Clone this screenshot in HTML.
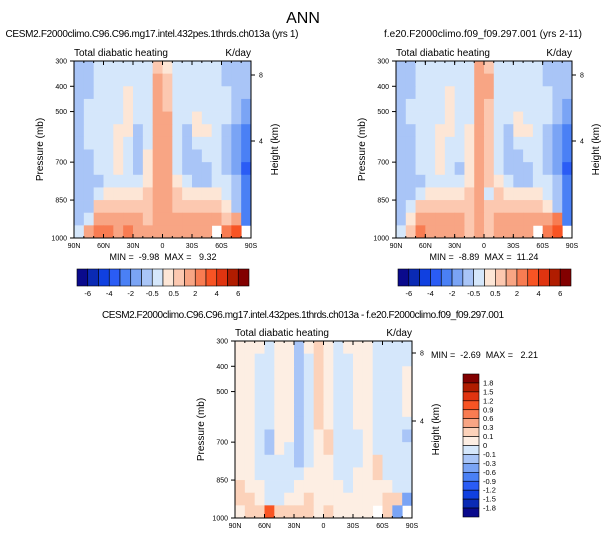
<!DOCTYPE html>
<html><head><meta charset="utf-8"><style>
body{margin:0;background:#fff}
svg{display:block;font-family:"Liberation Sans",sans-serif}
</style></head><body>
<svg id="fig" width="606" height="538" viewBox="0 0 606 538" xmlns="http://www.w3.org/2000/svg">
<text x="303" y="23" text-anchor="middle" font-size="16">ANN</text>
</svg>
<script>
// ---- data ----
const latLabels = ["90N","60N","30N","0","30S","60S","90S"];
const presTicks = [300,400,500,700,850,1000];
const heightTicks = [8,4];
const lev1 = [-6,-5,-4,-3,-2,-1,-0.5,0,0.5,1,2,3,4,5,6];
const lev1Labels = ["-6","-4","-2","-0.5","0.5","2","4","6"];
const lev3 = [-1.8,-1.5,-1.2,-0.9,-0.6,-0.3,-0.1,0,0.1,0.3,0.6,0.9,1.2,1.5,1.8];
const lev3Labels = ["1.8","1.5","1.2","0.9","0.6","0.3","0.1","0","-0.1","-0.3","-0.6","-0.9","-1.2","-1.5","-1.8"];
const colors1 = ["#0a0a8c","#0a2ab4","#1040e0","#2a5cf5","#4a80f5","#7aa4f5","#a9c5f7","#d5e7fb","#fde6d6","#fcc8b0","#f8a584","#f87c52","#f85424","#e03410","#b01c00","#820000"];
const colors3 = ["#0a0a8c","#0a2ab4","#1040e0","#2a5cf5","#4a80f5","#7aa4f5","#a9c5f7","#d5e7fb","#fdeee3","#fcd2ba","#f8a584","#f87c52","#f85424","#e03410","#b01c00","#820000"];
const N = null;
const panel1Values = [
[-0.8,-0.8,-0.3,-0.3,-0.3,-0.3,-0.3,-0.3,0.8,0.3,-0.3,-0.3,-0.3,-0.3,-0.3,-0.8,-0.8,-0.8],
[-0.8,-0.8,-0.3,-0.3,-0.3,-0.3,-0.3,-0.3,1.5,0.8,-0.3,-0.3,-0.3,-0.3,-0.3,-0.8,-0.8,-0.8],
[-0.8,-0.8,-0.3,-0.3,-0.3,0.2,-0.3,-0.3,1.5,0.8,-0.3,-0.3,-0.3,-0.3,-0.3,-0.3,-0.8,-0.8],
[-0.8,-0.3,-0.3,-0.3,-0.3,0.2,-0.3,-0.3,1.5,0.8,-0.3,-0.3,-0.3,-0.3,-0.3,-0.3,-0.8,-1.5],
[-0.8,-0.3,-0.3,-0.3,-0.3,0.2,-0.3,-0.3,1.5,1.5,-0.3,-0.3,0.2,-0.3,-0.3,-0.3,-0.8,-1.5],
[-0.8,-0.3,-0.3,-0.3,0.2,0.2,-0.8,-0.3,1.5,1.5,-0.3,-0.8,0.2,0.2,-0.3,-0.8,-1.5,-2.5],
[-0.8,-0.3,-0.3,-0.3,0.2,-0.3,-0.8,-0.3,1.5,1.5,-0.3,-0.8,-0.3,-0.3,-0.3,-0.8,-1.5,-2.5],
[-0.8,-0.8,-0.3,-0.3,0.2,-0.3,-0.8,0.2,1.5,1.5,-0.3,-0.8,-0.8,-0.3,-0.3,-0.8,-1.5,-2.5],
[-0.8,-0.8,-0.3,-0.3,0.2,-0.3,-0.8,0.2,1.5,1.5,-0.3,-0.8,-0.8,-0.8,-0.3,-0.8,-1.5,-3.5],
[-0.8,-0.8,-0.8,-0.3,-0.3,-0.3,-0.3,0.2,1.5,1.5,0.2,-0.3,-0.8,-0.8,-0.3,-0.3,-0.8,-2.5],
[-0.8,-0.8,-0.3,0.2,0.2,0.2,0.2,0.8,1.5,1.5,0.8,0.2,0.2,0.2,0.2,-0.3,-0.8,-2.5],
[-0.8,-0.8,0.8,0.8,0.8,0.8,0.8,0.8,1.5,1.5,0.8,0.8,0.8,0.8,0.8,0.2,-0.8,-2.5],
[-0.8,-0.3,1.5,1.5,1.5,1.5,1.5,0.8,1.5,1.5,1.5,1.5,1.5,1.5,1.5,0.8,1.5,-2.5],
[-0.3,1.5,2.5,2.5,1.5,2.5,1.5,1.5,1.5,1.5,1.5,1.5,1.5,1.5,N,2.5,3.5,N]];
const panel2Values = [
[-0.8,-0.8,-0.3,-0.3,-0.3,-0.3,-0.3,-0.3,1.5,0.8,-0.3,-0.3,-0.3,-0.3,-0.3,-0.8,-0.8,-0.8],
[-0.8,-0.8,-0.3,-0.3,-0.3,-0.3,-0.3,-0.3,1.5,1.5,-0.3,-0.3,-0.3,-0.3,-0.3,-0.8,-0.8,-0.8],
[-0.8,-0.8,-0.3,-0.3,-0.3,0.2,-0.3,-0.3,1.5,1.5,-0.3,-0.3,-0.3,-0.3,-0.3,-0.3,-0.8,-0.8],
[-0.8,-0.3,-0.3,-0.3,-0.3,0.2,-0.3,-0.3,1.5,0.8,-0.3,-0.3,-0.3,-0.3,-0.3,-0.3,-0.8,-1.5],
[-0.8,-0.3,-0.3,-0.3,-0.3,0.2,-0.3,-0.3,1.5,0.8,-0.3,-0.3,0.2,-0.3,-0.3,-0.3,-0.8,-1.5],
[-0.8,-0.8,-0.3,-0.3,0.2,0.2,-0.3,0.2,1.5,0.8,-0.3,-0.8,0.2,0.2,-0.3,-0.8,-1.5,-2.5],
[-0.8,-0.8,-0.3,-0.3,0.2,-0.3,-0.3,0.2,1.5,0.8,-0.3,-0.8,-0.3,-0.3,-0.3,-0.8,-1.5,-2.5],
[-0.8,-0.8,-0.3,-0.3,0.2,-0.3,-0.3,0.2,1.5,0.8,-0.3,-0.8,-0.8,-0.3,-0.3,-0.8,-1.5,-2.5],
[-0.8,-0.8,-0.3,-0.3,0.2,-0.3,-0.8,0.2,1.5,0.8,-0.3,-0.8,-0.8,-0.8,-0.3,-0.8,-1.5,-3.5],
[-0.8,-0.8,-0.8,-0.3,-0.3,-0.3,-0.3,0.2,1.5,0.8,0.2,-0.3,-0.8,-0.8,-0.3,-0.3,-0.8,-2.5],
[-0.8,-0.8,-0.3,0.2,0.2,0.2,0.2,0.8,1.5,-0.3,0.8,0.2,0.2,0.2,0.2,-0.3,-0.8,-2.5],
[-0.8,-0.3,0.8,0.8,0.8,0.8,0.8,0.8,1.5,0.8,0.8,0.8,0.8,0.8,0.8,0.2,-0.8,-2.5],
[-0.8,0.2,1.5,1.5,1.5,1.5,1.5,0.8,1.5,0.8,1.5,1.5,1.5,1.5,1.5,1.5,2.5,-2.5],
[-0.3,0.8,2.5,1.5,1.5,1.5,1.5,0.8,1.5,0.8,1.5,1.5,1.5,1.5,N,2.5,3.5,N]];
const panel3Values = [
[0.05,0.05,0.05,-0.05,0.05,0.05,-0.2,0.05,0.2,0.05,-0.05,0.05,0.05,0.05,-0.05,-0.05,-0.05,-0.05],
[0.05,0.05,-0.05,-0.05,0.05,0.05,-0.2,-0.05,0.2,0.05,-0.05,-0.05,0.05,0.05,-0.05,-0.05,-0.05,-0.05],
[0.05,0.05,-0.05,-0.05,0.05,0.05,-0.2,-0.05,0.2,0.05,-0.05,-0.05,0.05,0.05,-0.05,-0.05,-0.05,0.05],
[0.05,0.05,-0.05,-0.05,0.05,0.05,-0.2,-0.05,0.2,0.05,-0.05,-0.05,0.05,0.05,-0.05,-0.05,-0.05,0.05],
[0.05,0.05,-0.05,-0.05,0.05,0.05,-0.2,-0.05,0.2,0.05,-0.05,-0.05,0.05,0.05,-0.05,-0.05,-0.05,0.05],
[0.05,0.05,-0.05,-0.05,0.05,0.05,-0.2,-0.05,0.2,0.05,-0.05,-0.05,0.05,0.05,-0.05,-0.05,-0.05,0.05],
[0.05,0.05,-0.05,-0.05,0.05,0.05,-0.2,-0.05,0.2,0.05,-0.05,-0.05,0.05,0.05,-0.05,-0.05,-0.05,-0.05],
[0.05,0.05,-0.05,-0.2,0.05,0.05,-0.2,-0.05,0.05,0.2,-0.05,-0.05,-0.05,0.05,-0.05,-0.05,-0.05,-0.2],
[0.05,0.05,-0.05,-0.2,0.05,-0.05,-0.2,-0.05,0.05,0.2,-0.05,-0.05,-0.05,0.05,-0.05,-0.05,-0.05,-0.05],
[0.05,0.05,-0.05,-0.05,-0.05,-0.05,-0.2,-0.05,0.05,0.05,-0.05,-0.05,-0.05,0.05,0.2,-0.05,-0.05,-0.05],
[0.05,0.05,-0.05,-0.05,-0.05,-0.05,-0.05,0.05,0.05,0.05,-0.05,-0.05,0.05,0.05,0.2,-0.05,-0.05,-0.05],
[0.2,0.05,0.05,-0.05,-0.05,-0.05,0.05,0.05,0.05,0.05,0.05,-0.05,0.05,0.05,0.05,0.05,-0.05,-0.05],
[0.2,0.2,0.05,-0.05,-0.05,0.05,0.05,0.2,0.05,0.05,0.05,0.05,0.05,0.05,0.05,0.2,0.2,-0.5],
[0.05,0.2,0.2,1.0,0.2,0.2,0.2,0.2,0.05,0.2,0.05,0.05,0.05,0.05,N,0.2,-0.5,N]];

// ---- drawing ----
const NS = "http://www.w3.org/2000/svg";
const svg = document.getElementById("fig");
function mk(tag, attrs, parent) {
  const e = document.createElementNS(NS, tag);
  for (const k in attrs) e.setAttribute(k, attrs[k]);
  (parent || svg).appendChild(e);
  return e;
}
function txt(x, y, s, size, anchor, parent) {
  const t = mk("text", {x: x, y: y, "font-size": size, "text-anchor": anchor || "start"}, parent);
  t.textContent = s;
  return t;
}
function colorFor(v, lev, cols) {
  let i = 0;
  while (i < lev.length && v >= lev[i]) i++;
  return cols[i];
}

function panel(P, values, lev, cols, opts) {
  const g = mk("g", {});
  
  
  const xs = lat => P.x0 + (90 - lat) / 180 * (P.x1 - P.x0);
  const ys = p => P.y0 + (p - 300) / 700 * (P.y1 - P.y0);
  const nr = values.length, nc = values[0].length;
  for (let r = 0; r < nr; r++) {
    for (let c = 0; c < nc; c++) {
      const v = values[r][c];
      if (v === null) continue;
      const la = 90 - c * 180 / nc, lb = 90 - (c + 1) * 180 / nc;
      const pa = 300 + r * 700 / nr, pb = 300 + (r + 1) * 700 / nr;
      const cell = mk("rect", {x: xs(la), y: ys(pa), width: xs(lb) - xs(la) + 0.4, height: ys(pb) - ys(pa) + 0.4, fill: colorFor(v, lev, cols)}, g);
      
      
    }
  }
  const frame = mk("rect", {x: P.x0, y: P.y0, width: P.x1 - P.x0, height: P.y1 - P.y0, fill: "none", stroke: "#000", "stroke-width": 1}, g);
  
  
  latLabels.forEach((s, i) => {
    const x = P.x0 + i * (P.x1 - P.x0) / (latLabels.length - 1);
    mk("line", {x1: x, x2: x, y1: P.y1, y2: P.y1 - 4, stroke: "#000"}, g);
    mk("line", {x1: x, x2: x, y1: P.y0, y2: P.y0 + 4, stroke: "#000"}, g);
    const t = txt(x, P.y1 + 10, s, 7, "middle", g);
    
    
  });
  for (let lat = 80; lat > -90; lat -= 10) {
    const x = xs(lat);
    mk("line", {x1: x, x2: x, y1: P.y1, y2: P.y1 - 2, stroke: "#000"}, g);
    mk("line", {x1: x, x2: x, y1: P.y0, y2: P.y0 + 2, stroke: "#000"}, g);
  }
  presTicks.forEach(p => {
    const y = ys(p);
    mk("line", {x1: P.x0, x2: P.x0 - 4, y1: y, y2: y, stroke: "#000"}, g);
    const t = txt(P.x0 - 7, y + 2.5, String(p), 7, "end", g);
    
    
  });
  heightTicks.forEach((h, i) => {
    const y = opts.hy[i];
    mk("line", {x1: P.x1, x2: P.x1 + 4, y1: y, y2: y, stroke: "#000"}, g);
    const t = txt(P.x1 + 8, y + 2.5, String(h), 7, "start", g);
    
    
  });
  const yt = txt(0, 0, "Pressure (mb)", 10, "middle", g);
  yt.setAttribute("transform", `translate(${P.x0 - 31},${(P.y0 + P.y1) / 2}) rotate(-90)`);
  
  
  const ht = txt(0, 0, "Height (km)", 10, "middle", g);
  ht.setAttribute("transform", `translate(${P.x1 + 27},${(P.y0 + P.y1) / 2}) rotate(-90)`);
  
  
  const lt = txt(P.x0, P.y0 - 5, "Total diabatic heating", 10, "start", g);
  
  
  const ut = txt(P.x1, P.y0 - 5, "K/day", 10, "end", g);
  
  
  const st = txt(opts.titleX, opts.titleY, opts.title, 10, "middle", g);
  st.setAttribute("textLength", opts.titleW);
  
  
  const mm = txt(opts.mmX, opts.mmY, opts.mm.replace(/ /g, "\u00a0"), 9, opts.mmAnchor, g);
  
  
}

function hbar(x0, x1, y0, y1, cols, labels, name) {
  const g = mk("g", {});
  
  
  const w = (x1 - x0) / cols.length;
  cols.forEach((c, i) => {
    const r = mk("rect", {x: x0 + i * w, y: y0, width: w, height: y1 - y0, fill: c, stroke: "#000", "stroke-width": 0.6}, g);
    
    
  });
  labels.forEach((s, i) => {
    const t = txt(x0 + (2 * i + 1) * w, y1 + 10, s, 7.5, "middle", g);
    
    
  });
}
function vbar(x0, x1, y0, y1, cols, labels, name) {
  const g = mk("g", {});
  
  
  const h = (y1 - y0) / cols.length;
  cols.slice().reverse().forEach((c, i) => {
    const r = mk("rect", {x: x0, y: y0 + i * h, width: x1 - x0, height: h, fill: c, stroke: "#000", "stroke-width": 0.6}, g);
    
    
  });
  labels.forEach((s, i) => {
    const t = txt(x1 + 4, y0 + (i + 1) * h + 2.5, s, 7.5, "start", g);
    
    
  });
}

panel({x0: 74, x1: 251, y0: 61, y1: 238}, panel1Values, lev1, colors1,
  {name: "panel-test", hy: [75, 141], title: "CESM2.F2000climo.C96.C96.mg17.intel.432pes.1thrds.ch013a (yrs 1)",
   titleX: 152, titleY: 37, titleW: 293, mm: "MIN =  -9.98  MAX =   9.32", mmX: 163, mmY: 260, mmAnchor: "middle"});
panel({x0: 396, x1: 572, y0: 61, y1: 238}, panel2Values, lev1, colors1,
  {name: "panel-control", hy: [75, 141], title: "f.e20.F2000climo.f09_f09.297.001 (yrs 2-11)",
   titleX: 483, titleY: 37, titleW: 198, mm: "MIN =  -8.89  MAX =  11.24", mmX: 484, mmY: 260, mmAnchor: "middle"});
panel({x0: 235, x1: 412, y0: 341, y1: 518}, panel3Values, lev3, colors3,
  {name: "panel-difference", hy: [353, 421], title: "CESM2.F2000climo.C96.C96.mg17.intel.432pes.1thrds.ch013a - f.e20.F2000climo.f09_f09.297.001",
   titleX: 303, titleY: 318, titleW: 402, mm: "MIN =  -2.69  MAX =   2.21", mmX: 431, mmY: 358, mmAnchor: "start"});

hbar(77, 249, 269, 286, colors1, lev1Labels, "colorbar-test");
hbar(398, 571, 269, 286, colors1, lev1Labels, "colorbar-control");
vbar(463, 479, 374, 517, colors3, lev3Labels, "colorbar-difference");
</script>
</body></html>
